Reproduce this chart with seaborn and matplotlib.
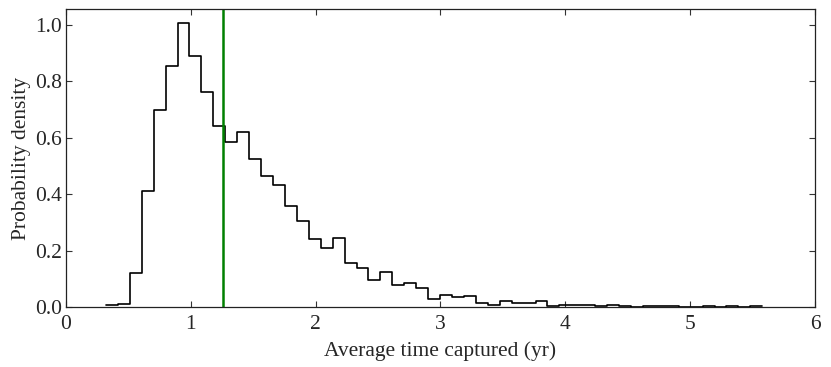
import numpy as np
import pandas as pd
import seaborn as sns
import matplotlib
matplotlib.use("Agg")
import matplotlib.pyplot as plt

# histogram bins
bin_start = 0.32
bin_width = 0.0956
density = [0.006, 0.011, 0.120, 0.412, 0.696, 0.852, 1.004, 0.888, 0.761, 0.639,
           0.584, 0.618, 0.525, 0.462, 0.433, 0.356, 0.306, 0.240, 0.209, 0.245,
           0.157, 0.138, 0.096, 0.124, 0.079, 0.084, 0.067, 0.030, 0.044, 0.037,
           0.039, 0.013, 0.007, 0.020, 0.013, 0.013, 0.021, 0.003, 0.006, 0.006,
           0.006, 0.003, 0.006, 0.003, 0.000, 0.003, 0.003, 0.003, 0.000, 0.000,
           0.003, 0.000, 0.005, 0.000, 0.003]
mean_time = 1.258
x_ticks = [0, 1, 2, 3, 4, 5, 6]
y_ticks = [0.0, 0.2, 0.4, 0.6, 0.8, 1.0]

edges = bin_start + bin_width * np.arange(len(density) + 1)
df = pd.DataFrame({"center": (edges[:-1] + edges[1:]) / 2, "density": density})

sns.set_style("ticks")
plt.rcParams["font.family"] = ["Liberation Serif", "DejaVu Serif"]
plt.rcParams["xtick.direction"] = "in"
plt.rcParams["ytick.direction"] = "in"
plt.rcParams["xtick.top"] = True
plt.rcParams["ytick.right"] = True

fig = plt.figure(figsize=(8.31, 3.67), dpi=100)
ax = fig.add_axes([0.0794, 0.1635, 0.9013, 0.812])

sns.histplot(data=df, x="center", weights="density", bins=list(edges), element="step",
             fill=False, color="black", linewidth=1.2, ax=ax)
ax.axvline(mean_time, color="#008000", linewidth=1.8)

ax.set_xlim(0, 6)
ax.set_ylim(0, 1.055)
ax.set_xticks(x_ticks)
ax.set_xticklabels([str(t) for t in x_ticks])
ax.set_yticks(y_ticks)
ax.set_yticklabels(["%.1f" % t for t in y_ticks])
ax.tick_params(labelsize=15.5, length=4, width=0.8, color="#333333")
ax.tick_params(axis="x", pad=6)
ax.tick_params(axis="y", pad=3)
for s in ax.spines.values():
    s.set_linewidth(0.9)
    s.set_color("#222222")
ax.set_xlabel("Average time captured (yr)", fontsize=15.5, labelpad=5)
ax.set_ylabel("Probability density", fontsize=15.5, labelpad=3)

fig.savefig("out.png", dpi=100)
